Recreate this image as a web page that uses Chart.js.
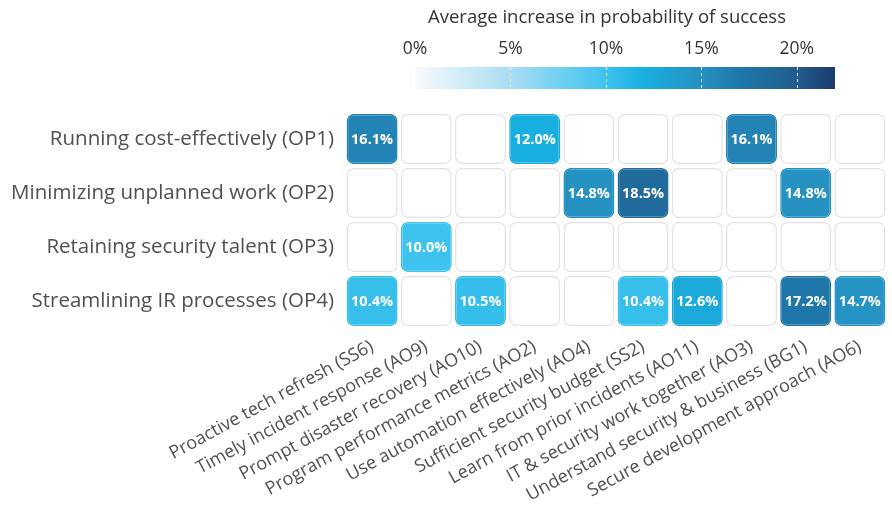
<!DOCTYPE html>
<html>
<head>
<meta charset="utf-8">
<script src="https://cdn.jsdelivr.net/npm/chart.js@4"></script>
<style>
  html, body { margin: 0; padding: 0; background: #fff; }
  #wrap { width: 892px; height: 512px; }
</style>
</head>
<body>
<div id="wrap"><canvas id="heat" width="892" height="512"></canvas></div>
<script>
// Rows (outcomes) and columns (practices)
const rowLabels = [
    'Running cost-effectively (OP1)',
    'Minimizing unplanned work (OP2)',
    'Retaining security talent (OP3)',
    'Streamlining IR processes (OP4)'
];
const colLabels = [
    'Proactive tech refresh (SS6)',
    'Timely incident response (AO9)',
    'Prompt disaster recovery (AO10)',
    'Program performance metrics (AO2)',
    'Use automation effectively (AO4)',
    'Sufficient security budget (SS2)',
    'Learn from prior incidents (AO11)',
    'IT & security work together (AO3)',
    'Understand security & business (BG1)',
    'Secure development approach (AO6)'
];

// Average increase in probability of success (%), null = no cell value
const op1Values = [16.1, null, null, 12.0, null, null, null, 16.1, null, null];
const op2Values = [null, null, null, null, 14.8, 18.5, null, null, 14.8, null];
const op3Values = [null, 10.0, null, null, null, null, null, null, null, null];
const op4Values = [10.4, null, 10.5, null, null, 10.4, 12.6, null, 17.2, 14.7];
const rowValues = [op1Values, op2Values, op3Values, op4Values];

// Colour scale legend
const legendTicks = [0, 5, 10, 15, 20];
const legendMax = 22;

// colour ramp stops (percent -> colour)
const stops = [
    [0, '#f8fafc'], [5, '#a9ddf3'], [10, '#3ec3ee'], [12, '#18afe0'],
    [15, '#2690c0'], [17, '#1f78aa'], [20, '#225c8e'], [22, '#1b3c6b']
];

function hexToRgb(h) {
    return [parseInt(h.slice(1, 3), 16), parseInt(h.slice(3, 5), 16), parseInt(h.slice(5, 7), 16)];
}

function colorFor(v) {
    for (let i = 1; i < stops.length; i++) {
        if (v <= stops[i][0]) {
            const a = stops[i - 1], b = stops[i];
            const t = (v - a[0]) / (b[0] - a[0]);
            const ca = hexToRgb(a[1]), cb = hexToRgb(b[1]);
            const c = ca.map((x, k) => Math.round(x + (cb[k] - x) * t));
            return `rgb(${c[0]},${c[1]},${c[2]})`;
        }
    }
    return stops[stops.length - 1][1];
}

const FONT = '"Open Sans", "DejaVu Sans", sans-serif';
const TEXT = '#505050';
const GAP = 0.035; // inset of each cell inside its row

const datasets = rowValues.map((vals, r) => ({
    label: rowLabels[r],
    values: vals,
    data: vals.map(() => [r + GAP, r + 1 - GAP]),
    backgroundColor: vals.map(v => v == null ? '#ffffff' : colorFor(v)),
    borderColor: vals.map(v => v == null ? '#e3e3e3' : colorFor(v)),
    borderWidth: 1.5,
    borderRadius: 7,
    borderSkipped: false,
    grouped: false,
    barPercentage: 0.94,
    categoryPercentage: 1
}));

// Texto dentro das células
const cellLabels = {
    id: 'cellLabels',
    afterDatasetsDraw(chart) {
        const ctx = chart.ctx;
        ctx.save();
        ctx.font = `bold 14.5px ${FONT}`;
        ctx.fillStyle = '#ffffff';
        ctx.textAlign = 'center';
        ctx.textBaseline = 'middle';
        chart.data.datasets.forEach((ds, i) => {
            chart.getDatasetMeta(i).data.forEach((bar, j) => {
                const v = ds.values[j];
                if (v == null) return;
                const p = bar.getCenterPoint();
                ctx.fillText(v.toFixed(1) + '%', p.x, p.y + 1);
            });
        });
        ctx.restore();
    }
};

// Legenda de cores no topo
const colorLegend = {
    id: 'colorLegend',
    afterDraw(chart) {
        const ctx = chart.ctx;
        const left = 415, right = 835, top = 67, h = 22;
        const xOf = v => left + (right - left) * v / legendMax;
        ctx.save();
        const grad = ctx.createLinearGradient(left, 0, right, 0);
        stops.forEach(s => grad.addColorStop(s[0] / legendMax, s[1]));
        ctx.fillStyle = grad;
        ctx.fillRect(left, top, right - left, h);

        ctx.strokeStyle = 'rgba(255,255,255,0.85)';
        ctx.lineWidth = 1;
        ctx.setLineDash([3, 3]);
        legendTicks.slice(1).forEach(t => {
            const x = Math.round(xOf(t)) + 0.5;
            ctx.beginPath();
            ctx.moveTo(x, top);
            ctx.lineTo(x, top + h);
            ctx.stroke();
        });
        ctx.setLineDash([]);

        ctx.fillStyle = '#333';
        ctx.textAlign = 'center';
        ctx.textBaseline = 'middle';
        ctx.font = `17.5px ${FONT}`;
        legendTicks.forEach(t => ctx.fillText(t + '%', xOf(t), 49));
        ctx.font = `18.5px ${FONT}`;
        ctx.fillText('Average increase in probability of success', 607, 18);
        ctx.restore();
    }
};

const heatCtx = document.getElementById('heat').getContext('2d');
window.heatChart = new Chart(heatCtx, {
    type: 'bar',
    data: {
        labels: colLabels,
        datasets: datasets
    },
    options: {
        responsive: false,
        animation: false,
        layout: {
            padding: { top: 112, right: 5, left: 0, bottom: 0 }
        },
        plugins: {
            legend: { display: false },
            tooltip: { enabled: false }
        },
        scales: {
            x: {
                grid: { display: false },
                border: { display: false },
                ticks: {
                    autoSkip: false,
                    minRotation: 28.5,
                    maxRotation: 28.5,
                    padding: 0,
                    color: TEXT,
                    font: { family: FONT, size: 18 }
                },
                afterFit: s => { s.height = 184; }
            },
            y: {
                type: 'linear',
                min: 0,
                max: rowLabels.length,
                reverse: true,
                grid: { display: false },
                border: { display: false },
                afterBuildTicks: axis => {
                    axis.ticks = rowLabels.map((_, i) => ({ value: i + 0.5 }));
                },
                ticks: {
                    padding: 3,
                    color: TEXT,
                    font: { family: FONT, size: 20.5 },
                    callback: v => rowLabels[Math.floor(v)]
                },
                afterFit: s => { s.width = 345; }
            }
        }
    },
    plugins: [cellLabels, colorLegend]
});
</script>
</body>
</html>
